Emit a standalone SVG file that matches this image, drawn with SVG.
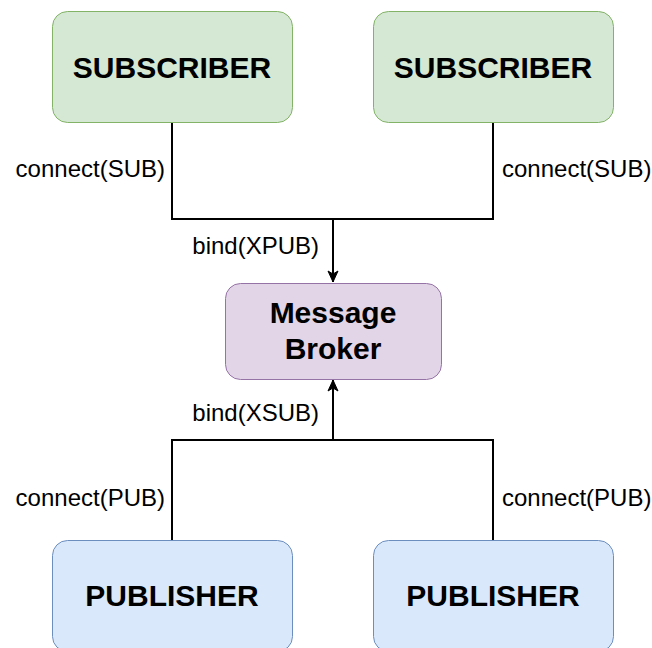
<svg xmlns="http://www.w3.org/2000/svg" width="652" height="648" viewBox="0 0 652 648">
  <style>
    .box { stroke-width: 1; }
    .sub { fill: #d5e8d4; stroke: #82b366; }
    .pub { fill: #dae8fc; stroke: #6c8ebf; }
    .broker { fill: #e1d5e7; stroke: #9673a6; }
    .title { font-family: "Liberation Sans", Arial, sans-serif; font-weight: bold; font-size: 30px; fill: #000; text-anchor: middle; }
    .label { font-family: "Liberation Sans", Arial, sans-serif; font-size: 24px; fill: #000; }
    .wire { fill: none; stroke: #000; stroke-width: 2; }
  </style>
  <defs>
    <marker id="arrow" markerUnits="userSpaceOnUse" markerWidth="14" markerHeight="14" viewBox="0 0 14 14" refX="12" refY="7" orient="auto">
      <path d="M1 2 L12 7 L1 12 L4 7 Z" fill="#000" stroke="#000" stroke-width="1"/>
    </marker>
  </defs>

  <rect width="652" height="648" fill="#fff"/>

  <g id="connectors">
    <path class="wire" d="M172 122.5 V219 H493 V122.5"/>
    <path class="wire" d="M333 219 V282" marker-end="url(#arrow)"/>
    <path class="wire" d="M172 540.5 V440 H493 V540.5"/>
    <path class="wire" d="M333 440 V380" marker-end="url(#arrow)"/>
    <text class="label" x="165" y="177" text-anchor="end">connect(SUB)</text>
    <text class="label" x="502" y="177">connect(SUB)</text>
    <text class="label" x="319" y="254" text-anchor="end">bind(XPUB)</text>
    <text class="label" x="319" y="421" text-anchor="end">bind(XSUB)</text>
    <text class="label" x="165" y="506" text-anchor="end">connect(PUB)</text>
    <text class="label" x="502" y="506">connect(PUB)</text>
  </g>

  <g id="subscriber-left">
    <rect class="box sub" x="52.5" y="11.5" width="240" height="111" rx="15"/>
    <text class="title" x="172" y="78">SUBSCRIBER</text>
  </g>

  <g id="subscriber-right">
    <rect class="box sub" x="373.5" y="11.5" width="240" height="111" rx="15"/>
    <text class="title" x="493" y="78">SUBSCRIBER</text>
  </g>

  <g id="broker">
    <rect class="box broker" x="225.5" y="283.5" width="216" height="96" rx="15"/>
    <text class="title" x="333" y="323">Message</text>
    <text class="title" x="333" y="359">Broker</text>
  </g>

  <g id="publisher-left">
    <rect class="box pub" x="52.5" y="540.5" width="240" height="111" rx="15"/>
    <text class="title" x="172" y="606">PUBLISHER</text>
  </g>

  <g id="publisher-right">
    <rect class="box pub" x="373.5" y="540.5" width="240" height="111" rx="15"/>
    <text class="title" x="493" y="606">PUBLISHER</text>
  </g>
</svg>
